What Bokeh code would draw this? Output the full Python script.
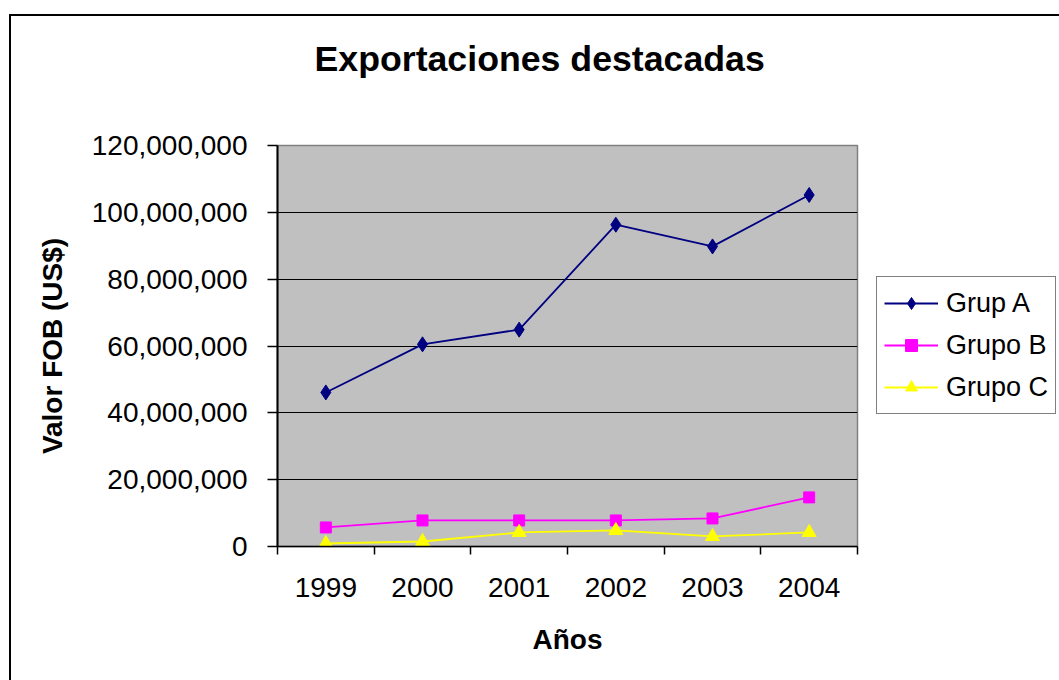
import math
from bokeh.plotting import figure
from bokeh.models import (Range1d, FixedTicker, NumeralTickFormatter, Legend, LegendItem,
                          Title, ColumnDataSource)
from bokeh.embed import file_html
from bokeh.resources import INLINE

# ---- data ----
years = ["1999", "2000", "2001", "2002", "2003", "2004"]
grup_a = [46_100_000, 60_500_000, 64_900_000, 96_300_000, 89_800_000, 105_200_000]
grupo_b = [5_700_000, 7_800_000, 7_800_000, 7_800_000, 8_400_000, 14_700_000]
grupo_c = [900_000, 1_500_000, 4_200_000, 4_800_000, 3_000_000, 4_200_000]
y_ticks = [0, 20_000_000, 40_000_000, 60_000_000, 80_000_000, 100_000_000, 120_000_000]

title_text = "Exportaciones destacadas"
x_title = "Años"
y_title = "Valor FOB (US$)"
series_names = ["Grup A", "Grupo B", "Grupo C"]

FONT = "Liberation Sans"

xpos = [i + 0.5 for i in range(len(years))]

p = figure(frame_width=580, frame_height=401,
           min_border_left=266, min_border_right=202,
           min_border_top=129, min_border_bottom=134,
           x_range=Range1d(0, len(years)), y_range=Range1d(0, y_ticks[-1]),
           output_backend="svg", toolbar_location=None, title=None)

p.margin = (14, 0, 0, 9)
p.styles = {"border-left": "2px solid black", "border-top": "2px solid black"}

p.background_fill_color = "#C0C0C0"
p.border_fill_color = "white"
p.outline_line_color = "#808080"
p.outline_line_width = 1.5

# x axis
xa = p.xaxis[0]
xa.ticker = FixedTicker(ticks=xpos, minor_ticks=list(range(len(years) + 1)))
xa.major_label_overrides = {x: y for x, y in zip(xpos, years)}
xa.major_tick_out = 0
xa.major_tick_in = 0
xa.minor_tick_out = 8
xa.minor_tick_in = 0
xa.minor_tick_line_color = "black"
xa.minor_tick_line_width = 1.5
xa.axis_line_color = "black"
xa.axis_line_width = 1.5
xa.major_label_text_font = FONT
xa.major_label_text_font_size = "28px"
xa.major_label_text_color = "black"
xa.major_label_standoff = 23
xa.axis_label = x_title
xa.axis_label_text_font = FONT
xa.axis_label_text_font_size = "28px"
xa.axis_label_text_font_style = "bold"
xa.axis_label_text_color = "black"
xa.axis_label_standoff = 24

# y axis
ya = p.yaxis[0]
ya.ticker = FixedTicker(ticks=y_ticks, minor_ticks=[])
ya.formatter = NumeralTickFormatter(format="0,0")
ya.major_tick_out = 10
ya.major_tick_in = 0
ya.major_tick_line_color = "black"
ya.major_tick_line_width = 1.5
ya.axis_line_color = "black"
ya.axis_line_width = 2
ya.major_label_text_font = FONT
ya.major_label_text_font_size = "28px"
ya.major_label_text_color = "black"
ya.major_label_standoff = 20
ya.axis_label = y_title
ya.axis_label_text_font = FONT
ya.axis_label_text_font_size = "28px"
ya.axis_label_text_font_style = "bold"
ya.axis_label_text_color = "black"
ya.axis_label_standoff = 21

p.xgrid.visible = False
p.ygrid.ticker = FixedTicker(ticks=y_ticks[1:-1])
p.ygrid.grid_line_color = "black"
p.ygrid.grid_line_width = 1.2

src = ColumnDataSource(dict(x=xpos, a=grup_a, b=grupo_b, c=grupo_c))

la = p.line("x", "a", source=src, line_color="#000080", line_width=1.8)
ma = p.scatter("x", "a", source=src, marker="diamond", size=15,
               fill_color="#000080", line_color="#000080")
lb = p.line("x", "b", source=src, line_color="#FF00FF", line_width=1.8)
mb = p.scatter("x", "b", source=src, marker="square", size=11, fill_color="#FF00FF", line_color="#FF00FF")
lc = p.line("x", "c", source=src, line_color="#FFFF00", line_width=1.8)
mc = p.scatter("x", "c", source=src, marker="triangle", size=14, fill_color="#FFFF00", line_color="#FFFF00")

legend = Legend(items=[LegendItem(label=series_names[0], renderers=[la, ma]),
                       LegendItem(label=series_names[1], renderers=[lb, mb]),
                       LegendItem(label=series_names[2], renderers=[lc, mc])],
                location=(19, 132))
legend.label_text_font = FONT
legend.label_text_font_size = "27px"
legend.label_text_color = "black"
legend.label_height = 38
legend.glyph_height = 30
legend.glyph_width = 54
legend.label_standoff = 8
legend.spacing = 4
legend.padding = 7
legend.margin = 0
legend.border_line_color = "black"
legend.border_line_width = 1.5
legend.background_fill_color = "white"
legend.background_fill_alpha = 1
p.add_layout(legend, "right")

# spacer between frame and chart title, then the title itself
p.add_layout(Title(text=" ", text_font_size="1px", standoff=64), "above")
p.add_layout(Title(text=title_text, align="left", offset=37, standoff=0,
                   text_font=FONT, text_font_size="35.7px", text_font_style="bold",
                   text_color="black"), "above")

open("out.html", "w").write(file_html(p, INLINE))
